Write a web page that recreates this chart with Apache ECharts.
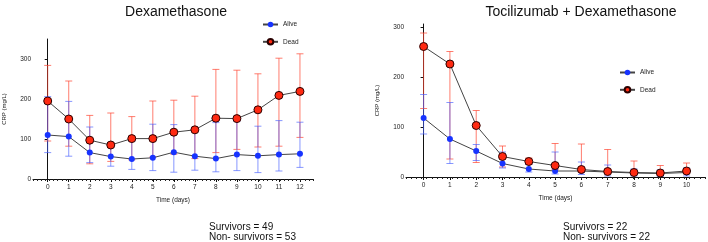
<!DOCTYPE html>
<html>
<head>
<meta charset="utf-8">
<script src="https://cdn.jsdelivr.net/npm/echarts@6/dist/echarts.min.js"></script>
<style>
  html, body { margin: 0; padding: 0; background: #fff; }
  #main { width: 708px; height: 242px; }
</style>
</head>
<body>
<div id="main"></div>
<script>
// Dexamethasone panel
const dexDays = [0, 1, 2, 3, 4, 5, 6, 7, 8, 9, 10, 11, 12];
const dexAlive   = [110, 106, 66, 56, 50, 53, 67, 57, 51, 61, 58, 61, 63];
const dexAliveHi = [206, 194, 130, 90, 95, 137, 136, 120, 141, 145, 132, 146, 142];
const dexAliveLo = [66, 57, 41, 32, 24, 21, 17, 22, 18, 21, 16, 20, 29];
const dexDead    = [195, 150, 97, 85, 101, 101, 117, 123, 152, 151, 173, 209, 219];
const dexDeadHi  = [284, 245, 159, 165, 156, 195, 197, 207, 274, 272, 263, 302, 313];
const dexDeadLo  = [95, 82, 38, 44, 48, 55, 62, 51, 66, 74, 80, 82, 104];

// Tocilizumab + Dexamethasone panel
const tocDays = [0, 1, 2, 3, 4, 5, 6, 7, 8, 9, 10];
const tocAlive   = [118, 76, 52, 27, 16, 12, 12, 10, 8, 7, 9];
const tocAliveHi = [165, 149, 65, 50, 25, 50, 30, 24, 16, 14, 18];
const tocAliveLo = [86, 27, 33, 18, 10, 6, 5, 2, 2, 1, 2];
const tocDead    = [261, 226, 103, 41, 31, 23, 15, 11, 9, 8, 12];
const tocDeadHi  = [288, 251, 133, 62, 38, 67, 66, 55, 32, 23, 28];
const tocDeadLo  = [137, 36, 29, 20, 25, 15, 10, 8, 6, 5, 6];

const yTicks = [0, 100, 200, 300];

const FONT = 'Liberation Sans, Arial, sans-serif';
const RED = '#ff2a12';
const BLUE = '#1733ff';
const RED_ERR = 'rgba(255, 70, 50, 0.7)';
const BLUE_ERR = 'rgba(70, 95, 255, 0.65)';

function errRender(color) {
  return function (params, api) {
    const x = api.value(0);
    const top = api.coord([x, api.value(2)]);
    const bot = api.coord([x, api.value(1)]);
    const w = 3.5;
    const st = { stroke: color, lineWidth: 1 };
    return {
      type: 'group',
      children: [
        { type: 'line', shape: { x1: top[0], y1: top[1], x2: bot[0], y2: bot[1] }, style: st },
        { type: 'line', shape: { x1: top[0] - w, y1: top[1], x2: top[0] + w, y2: top[1] }, style: st },
        { type: 'line', shape: { x1: bot[0] - w, y1: bot[1], x2: bot[0] + w, y2: bot[1] }, style: st }
      ]
    };
  };
}

function pairs(days, vals) { return days.map((d, i) => [d, vals[i]]); }
function triples(days, lo, hi) { return days.map((d, i) => [d, lo[i], hi[i]]); }

function xAxes(grid, min, max, days, minorMin, minorMax) {
  return [
    {
      gridIndex: grid, type: 'value', min: min, max: max,
      name: 'Time (days)', nameLocation: 'middle', nameGap: 18,
      nameTextStyle: { fontSize: 6.5, color: '#222', fontFamily: FONT },
      axisLine: { onZero: false, lineStyle: { color: '#111', width: 1 } },
      axisTick: { show: true, length: 3, customValues: days, lineStyle: { color: '#111' } },
      axisLabel: { customValues: days, fontSize: 6.5, color: '#222', margin: 5, fontFamily: FONT },
      splitLine: { show: false }
    },
    {
      // dense minor ticks under the axis line
      gridIndex: grid, type: 'value', min: minorMin, max: minorMax, interval: 0.2,
      position: 'bottom', offset: 0,
      axisLine: { show: false, onZero: false },
      axisTick: { show: true, length: 2, lineStyle: { color: '#222', width: 1 } },
      axisLabel: { show: false },
      splitLine: { show: false }
    }
  ];
}

function yAxis(grid, max) {
  return {
    gridIndex: grid, type: 'value', min: 0, max: max,
    name: 'CRP (mg/L)', nameLocation: 'middle', nameGap: 26,
    nameTextStyle: { fontSize: 6, color: '#222', fontFamily: FONT },
    axisLine: { show: true, lineStyle: { color: '#111', width: 1 } },
    axisTick: { show: true, length: 3, customValues: yTicks, lineStyle: { color: '#111' } },
    axisLabel: { customValues: yTicks, fontSize: 6.5, color: '#222', margin: 2, fontFamily: FONT },
    splitLine: { show: false }
  };
}

function seriesFor(xi, yi, days, alive, aLo, aHi, dead, dLo, dHi) {
  return [
    { type: 'custom', xAxisIndex: xi, yAxisIndex: yi, renderItem: errRender(RED_ERR),
      data: triples(days, dLo, dHi), encode: { x: 0, y: [1, 2] }, z: 1, silent: true },
    { type: 'custom', xAxisIndex: xi, yAxisIndex: yi, renderItem: errRender(BLUE_ERR),
      data: triples(days, aLo, aHi), encode: { x: 0, y: [1, 2] }, z: 1, silent: true },
    { name: 'Alive', type: 'line', xAxisIndex: xi, yAxisIndex: yi, data: pairs(days, alive),
      symbol: 'circle', symbolSize: 6, z: 3,
      lineStyle: { color: '#444', width: 1 },
      itemStyle: { color: BLUE, borderWidth: 0 } },
    { name: 'Dead', type: 'line', xAxisIndex: xi, yAxisIndex: yi, data: pairs(days, dead),
      symbol: 'circle', symbolSize: 8, z: 4,
      lineStyle: { color: '#444', width: 1 },
      itemStyle: { color: RED, borderColor: '#2a0000', borderWidth: 1 } }
  ];
}

const legendBase = {
  orient: 'vertical', itemWidth: 15, itemHeight: 7, itemGap: 10, padding: 0,
  textStyle: { fontSize: 6.5, color: '#222', fontFamily: FONT },
  data: ['Alive', 'Dead'], selectedMode: false
};

const option = {
  animation: false,
  backgroundColor: '#fff',
  title: [
    { text: 'Dexamethasone', left: 171, top: 0, textAlign: 'center',
      textStyle: { fontSize: 14, fontWeight: 'normal', color: '#111', fontFamily: FONT } },
    { text: 'Tocilizumab + Dexamethasone', left: 576, top: 0, textAlign: 'center',
      textStyle: { fontSize: 14, fontWeight: 'normal', color: '#111', fontFamily: FONT } }
  ],
  legend: [
    Object.assign({}, legendBase, { left: 262, top: 21 }),
    Object.assign({}, legendBase, { left: 619, top: 69 })
  ],
  grid: [
    { left: 33, right: 395, top: 39, bottom: 63 },
    { left: 406, right: 3, top: 24, bottom: 65 }
  ],
  xAxis: xAxes(0, -0.7, 12.62, dexDays, -0.8, 12.8).concat(xAxes(1, -0.67, 10.7, tocDays, -0.8, 10.8)),
  yAxis: [yAxis(0, 350), yAxis(1, 306)],
  series: seriesFor(0, 0, dexDays, dexAlive, dexAliveLo, dexAliveHi, dexDead, dexDeadLo, dexDeadHi)
    .concat(seriesFor(2, 1, tocDays, tocAlive, tocAliveLo, tocAliveHi, tocDead, tocDeadLo, tocDeadHi)),
  graphic: [
    { type: 'text', left: 209, top: 222, style: { text: 'Survivors = 49', fontSize: 10, fill: '#111', fontFamily: FONT } },
    { type: 'text', left: 209, top: 232, style: { text: 'Non- survivors = 53', fontSize: 10, fill: '#111', fontFamily: FONT } },
    { type: 'text', left: 563, top: 222, style: { text: 'Survivors = 22', fontSize: 10, fill: '#111', fontFamily: FONT } },
    { type: 'text', left: 563, top: 232, style: { text: 'Non- survivors = 22', fontSize: 10, fill: '#111', fontFamily: FONT } }
  ]
};

const myChart = echarts.init(document.getElementById('main'), null, { renderer: 'canvas' });
myChart.setOption(option);
</script>
</body>
</html>
